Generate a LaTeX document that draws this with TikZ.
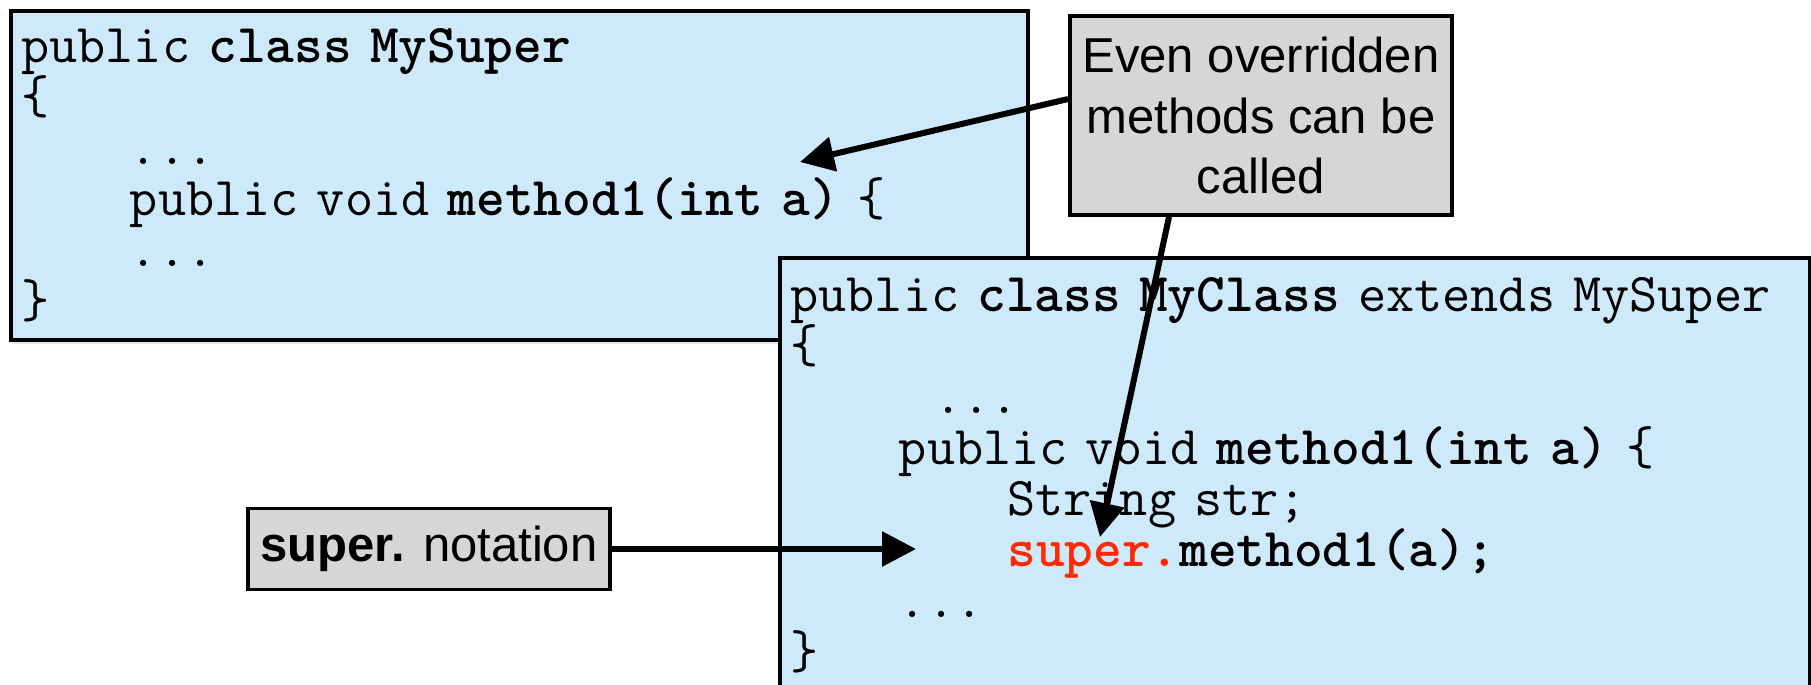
\documentclass[tikz,border=0pt]{standalone}
\usepackage{fontspec}
\newfontfamily\notefont{Liberation Sans}
\usepackage{tikz}
\usetikzlibrary{arrows.meta,positioning,calc,shadows}
\usepackage{xcolor}
\definecolor{codeblue}{RGB}{205,233,250}
\definecolor{notegray}{RGB}{214,214,214}
\definecolor{superred}{RGB}{255,42,5}
\newlength{\charw}
\setlength{\charw}{15.43pt}
\newcommand{\codefont}{\fontsize{31.1}{29}\selectfont\ttfamily}
\newcommand{\pad}[1]{\hspace*{#1\charw}}

\begin{document}
\begin{tikzpicture}[x=0.02cm, y=-0.02cm,
        codebox/.style={draw, fill=codeblue, line width=2.2pt, anchor=north west,
                        align=left, inner xsep=0.21cm, inner ysep=0pt, font=\codefont,
                        drop shadow={opacity=0.18, shadow xshift=0.03cm, shadow yshift=-0.09cm}},
        note/.style={draw, fill=notegray, line width=2.2pt, align=center, inner sep=0pt,
                     font=\notefont\fontsize{27.9}{34.5}\selectfont},
        arrow/.style={-{Triangle[length=0.68cm, width=0.68cm]}, line width=0.12cm}
    ]
    \useasboundingbox (0,0) rectangle (1811,685);

    % ---- Superclass ----
    \node[codebox, text width=19.92cm, minimum height=6.58cm] (mysuper) at (9,9) {%
        public \textbf{class MySuper}\\
        \{\\
        \pad{4}...\\
        \pad{4}public void \textbf{method1(int a)} \{\\
        \pad{4}...\\
        \}};

    % ---- Subclass ----
    \node[codebox, text width=20.18cm, minimum height=8.7cm] (myclass) at (778,256) {%
        public \textbf{class MyClass} extends MySuper\\
        \{\\
        \pad{5.3}...\\
        \pad{4}public void \textbf{method1(int a)} \{\\
        \pad{8}String str;\\
        \pad{8}\textbf{\textcolor{superred}{super.}method1(a);}\\
        \pad{4}...\\
        \}};

    % ---- Callouts ----
    \node[note, minimum width=7.64cm, minimum height=3.98cm] (overridden) at (1261,115.5)
        {Even overridden\\methods can be\\called};
    \node[note, minimum width=7.24cm, minimum height=1.62cm] (notation) at (429,549)
        {\textbf{super.} notation};

    % Arrow tips inside the code
    \coordinate (supertip) at (800,162);
    \coordinate (calltip) at (1100,537);
    \coordinate (notetip) at (916,549);

    % Arrows
    \draw[arrow] ([yshift=0.33cm]overridden.west) -- (supertip);
    \draw[arrow] ([xshift=-1.84cm]overridden.south) -- (calltip);
    \draw[arrow] (notation.east) -- (notetip);

\end{tikzpicture}
\end{document}
